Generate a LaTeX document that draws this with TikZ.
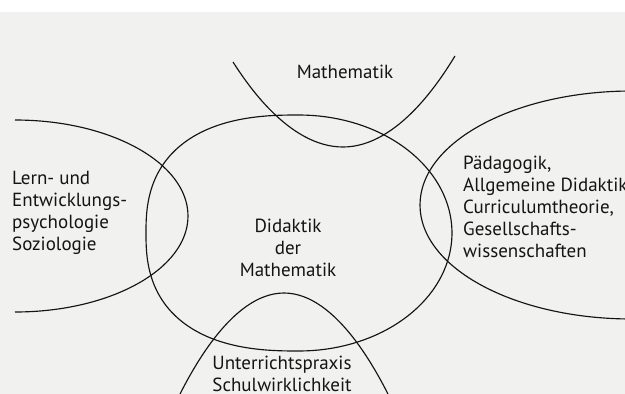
\documentclass[tikz,border=0pt]{standalone}
\usepackage{fontspec}
\setmainfont{PT Sans}
\definecolor{paper}{RGB}{241,241,239}
\definecolor{ink}{RGB}{20,20,20}
\tikzset{
  curve/.style={draw=ink, line width=1.15pt},
  lbl/.style={text=ink, font=\fontsize{19}{22}\selectfont, inner sep=0pt},
}
\begin{document}
\begin{tikzpicture}[x=1pt,y=-1pt]
\useasboundingbox (0,0) rectangle (625,394);
\fill[white] (0,0) rectangle (625,394);
\fill[paper] (0,12) rectangle (625,394);
% Lern- und Entwicklungspsychologie arc
\draw[curve] (15,120) arc[start angle=90, end angle=-90, x radius=173pt, y radius=96pt];
% Paedagogik arc
\draw[curve] (632,91) arc[start angle=90, end angle=270, x radius=212pt, y radius=114pt];
% Mathematik parabola
\draw[curve] (233,62) parabola bend (343,147) (455,56);
% Unterrichtspraxis parabola
\draw[curve] (177,400) parabola bend (284,293) (391,400);
% central egg: right half elliptic, left half slightly fuller
\draw[curve, line join=round]
  plot[domain=-90:90, samples=72] ({299+153*cos(\x)}, {233+118*sin(\x)})
  -- plot[domain=89.5:0.5, samples=60] ({299-153*pow(cos(\x),0.8)}, {233+118*pow(sin(\x),0.8)})
  -- plot[domain=0.5:89.5, samples=60] ({299-153*pow(cos(\x),0.8)}, {233-118*pow(sin(\x),0.8)})
  -- cycle;
% labels
\node[lbl] (ma) at (345,72) {Mathematik};
\node[lbl, align=left, anchor=west] (le) at (12,213) {Lern- und\\Entwicklungs-\\psychologie\\Soziologie};
\node[lbl, align=left, anchor=west] (pa) at (463,207) {Pädagogik,\\Allgemeine Didaktik\\Curriculumtheorie,\\Gesellschafts-\\wissenschaften};
\node[lbl, align=center] (dm) at (288,248) {Didaktik\\der\\Mathematik};
\node[lbl, align=center] (un) at (282,373.5) {Unterrichtspraxis\\Schulwirklichkeit};
\end{tikzpicture}
\end{document}
